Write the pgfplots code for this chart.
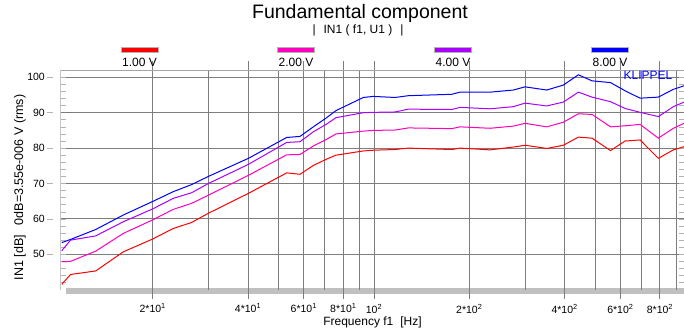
\documentclass[border=0pt]{standalone}
\usepackage{fontspec}
\setmainfont{Liberation Sans}
\usepackage{pgfplots}
\pgfplotsset{compat=1.18}
\usepackage{pgfplotstable}
\definecolor{cRed}{RGB}{255,0,0}
\definecolor{cPink}{RGB}{255,0,190}
\definecolor{cPurple}{RGB}{170,0,255}
\definecolor{cBlue}{RGB}{0,0,255}
\definecolor{gridDark}{RGB}{125,125,125}
\definecolor{gridLight}{RGB}{212,212,212}
\definecolor{barGray}{RGB}{192,192,192}

\pgfplotstableread{
f      r     p     v     b
10.32  41.5  47.9  51.0  53.3
11.00  44.3  48.0  54.0  54.2
13.21  45.3  50.9  55.2  57.0
16.15  50.7  55.9  59.2  61.1
19.97  54.3  59.7  62.8  64.9
23.23  57.3  62.7  65.8  67.7
26.55  59.0  64.4  67.4  69.7
29.98  61.6  66.7  70.0  72.0
40.09  67.2  72.3  75.4  77.1
52.98  73.0  78.1  81.6  83.0
58.37  72.6  78.2  81.8  83.3
64.32  75.1  80.6  84.6  86.0
70.87  76.9  82.5  86.8  88.6
75.86  78.0  84.0  88.6  90.6
92.51  79.2  84.8  90.0  94.3
99.5   79.4  85.0  90.1  94.6
116.5  79.6  85.1  90.2  94.3
128.3  80.0  85.7  91.0  94.8
176.0  79.6  85.5  90.9  95.2
186.9  80.0  86.0  91.5  95.8
232.5  79.5  85.6  91.1  95.8
275.4  80.3  86.2  91.7  96.4
299.9  80.8  87.0  92.7  97.3
351.2  79.9  86.0  91.9  96.4
396.2  80.8  87.3  93.0  97.8
441.9  83.1  89.7  95.8  100.7
488.1  82.8  89.5  94.4  99.0
558.5  79.3  86.0  93.1  98.5
620.6  82.0  86.3  91.2  96.2
692.1  82.3  86.7  90.1  94.1
790.7  77.1  82.8  88.9  94.4
881.9  79.5  85.6  91.7  96.6
953.1  80.4  87.0  93.0  97.6
}\data

\begin{document}
\begin{tikzpicture}[x=1pt,y=1pt]
\useasboundingbox (0,0) rectangle (684,333);
% bottom bar and left line
\fill[barGray] (66,39) rectangle (684,45);
\draw[gray!45, line width=1pt] (60,43.3) -- (60,263);
\begin{axis}[
  at={(61pt,43.3pt)}, anchor=south west,
  scale only axis, width=623pt, height=219.5pt,
  xmode=log, xmin=10.265, xmax=953,
  ymin=40, ymax=102,
  axis line style={draw=none},
  xtick={20,40,60,80,100,200,400,600,800},
  xticklabels={2*10\textsuperscript{1},4*10\textsuperscript{1},6*10\textsuperscript{1},8*10\textsuperscript{1},10\textsuperscript{2},2*10\textsuperscript{2},4*10\textsuperscript{2},6*10\textsuperscript{2},8*10\textsuperscript{2}},
  minor xtick={30,50,70,90,300,500,700,900},
  xmajorgrids, xminorgrids,
  major grid style={gridDark, line width=1pt},
  minor grid style={gridDark, line width=1pt},
  xtick align=outside,
  major tick length=9pt,
  minor tick length=5pt,
  major x tick style={gridDark, line width=1pt},
  minor x tick style={draw=none},
  ytick={50,70,80,100},
  extra y ticks={60,90},
  extra y tick style={grid style={gridLight, line width=2pt}},
  ymajorgrids,
  minor ytick={42,44,...,100},
  ytick align=inside,
  major y tick style={draw=none},
  minor y tick style={gray!60, line width=0.6pt},
  yticklabel={\pgfmathparse{int(\tick)}\pgfmathresult\hspace{2pt}\textcolor{gray!60}{\rule[3.3pt]{6pt}{0.7pt}}},
  yticklabel style={inner sep=0pt, anchor=east, xshift=-8pt, font=\fontsize{10.5}{12}\selectfont},
  xticklabel style={inner sep=0pt, anchor=north, yshift=-5pt, font=\fontsize{10.5}{12}\selectfont},
  xlabel={Frequency f1\hspace{7pt}[Hz]},
  xlabel style={at={(axis description cs:0.5,0)}, anchor=center, yshift=-33pt, font=\fontsize{12}{14}\selectfont},
  ylabel={IN1 [dB]\hspace{10pt}0dB=3.55e-006 V (rms)},
  ylabel style={at={(axis description cs:-0.0658,0.4656)}, anchor=center, font=\fontsize{12.5}{14}\selectfont},
  every axis plot/.append style={line width=1pt, mark=none},
]
\addplot[cRed] table[x=f, y=r] {\data};
\addplot[cPink] table[x=f, y=p] {\data};
\addplot[cPurple] table[x=f, y=v] {\data};
\addplot[cBlue] table[x=f, y=b] {\data};
\end{axis}
% top frame line
\draw[gridDark!70, line width=1pt] (61,262.8) -- (684,262.8);
% titles
\node[font=\fontsize{19.5}{22}\selectfont] at (360,320) {Fundamental component};
\node[font=\fontsize{12}{14}\selectfont] at (358,303) {|\hspace{8pt}IN1 ( f1, U1 )\hspace{8pt}|};
% legend
\foreach \c/\xc/\t in {cRed/139.5/1.00 V, cPink/296/2.00 V, cPurple/453/4.00 V, cBlue/610/8.00 V}{
  \filldraw[fill=\c, draw=gray!60, line width=0.6pt] (\xc-18.5,281) rectangle (\xc+18.5,285.5);
  \node[font=\fontsize{12}{14}\selectfont] at (\xc,271) {\t};
}
\node[font=\fontsize{12}{14}\selectfont, text=cBlue] at (648,258) {KLIPPEL};
\end{tikzpicture}
\end{document}
